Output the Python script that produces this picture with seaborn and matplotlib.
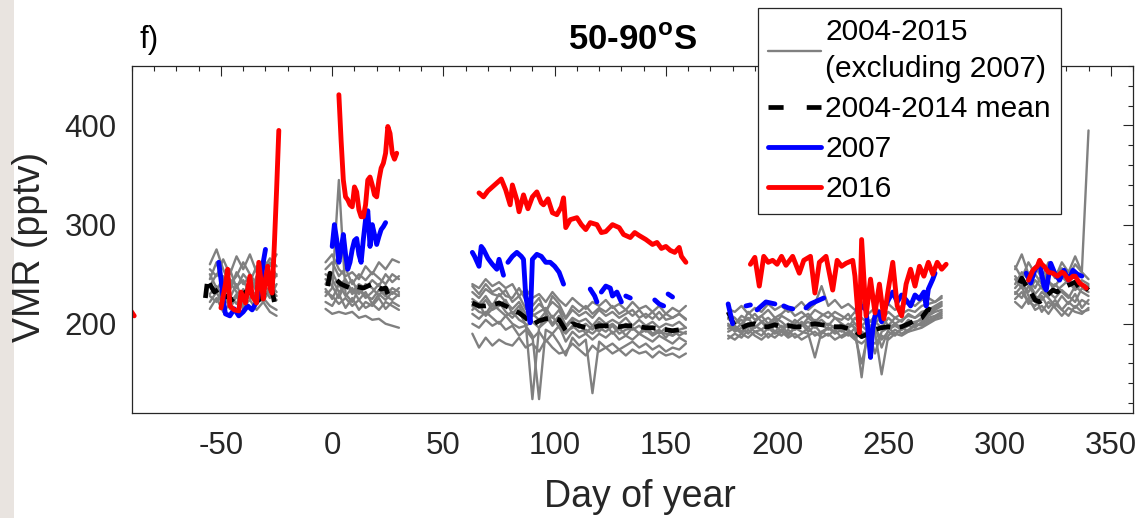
import numpy as np
import pandas as pd
import matplotlib
matplotlib.use("Agg")
import matplotlib.pyplot as plt
import seaborn as sns
from matplotlib.lines import Line2D
from matplotlib.patches import Rectangle
from matplotlib.ticker import MultipleLocator

nan = np.nan

# ---------------- data ----------------
gray_years = [2004, 2005, 2006, 2008, 2009, 2010, 2011, 2012, 2013, 2014]

days_a = [-55, -52, -49, -46, -43, -40, -37, -34, -31, -28, -25]
gray_a = [
    [245, 262, 240, 255, 236, 250, 242, 258, 246, 262, 248],
    [230, 238, 225, 242, 232, 228, 245, 236, 250, 240, 232],
    [255, 248, 265, 250, 268, 255, 270, 252, 264, 258, 270],
    [222, 232, 218, 228, 220, 235, 225, 230, 222, 236, 228],
    [238, 250, 246, 234, 252, 240, 248, 232, 244, 238, 250],
    [215, 226, 212, 220, 230, 218, 224, 214, 222, 212, 208],
    [240, 232, 248, 226, 240, 222, 236, 228, 242, 230, 224],
    [260, 275, 255, 240, 248, 262, 250, 240, 255, 266, 258],
    [228, 222, 235, 215, 228, 215, 232, 220, 226, 218, 214],
    [250, 236, 228, 245, 238, 244, 230, 248, 236, 226, 240],
]

days_b = [-3, 0, 3, 6, 9, 12, 15, 18, 21, 24, 27, 30]
gray_b = [
    [262, 270, 255, 248, 252, 245, 258, 250, 262, 255, 265, 262],
    [240, 252, 238, 245, 232, 240, 236, 244, 238, 250, 242, 248],
    [228, 236, 345, 230, 222, 235, 226, 232, 240, 228, 236, 232],
    [250, 245, 232, 238, 244, 230, 240, 236, 228, 238, 230, 236],
    [235, 225, 240, 228, 236, 224, 232, 220, 230, 224, 232, 228],
    [255, 262, 248, 256, 240, 250, 244, 252, 246, 240, 250, 245],
    [222, 218, 230, 216, 226, 214, 222, 218, 226, 215, 222, 218],
    [245, 238, 226, 242, 230, 236, 228, 225, 234, 228, 224, 230],
    [232, 228, 220, 226, 218, 224, 216, 220, 214, 222, 218, 214],
    [215, 210, 212, 210, 212, 206, 208, 204, 205, 200, 198, 196],
]

days_c = list(range(63, 160, 3))
gray_c = [
    [240, 236, 245, 238, 242, 236, 240, 228, 235, 226, 230, 222, 232, 224, 218, 226, 220, 215, 222, 218, 224, 216, 220, 214, 222, 215, 218, 212, 218, 210, 216, 212, 218],
    [232, 226, 235, 230, 228, 234, 222, 228, 215, 212, 220, 214, 222, 216, 205, 214, 208, 212, 206, 214, 208, 212, 206, 210, 214, 206, 210, 205, 212, 204, 206, 210, 205],
    [225, 220, 228, 218, 230, 222, 215, 222, 210, 208, 212, 216, 206, 214, 198, 206, 202, 205, 198, 206, 200, 204, 200, 206, 198, 204, 198, 202, 196, 200, 198, 202, 196],
    [218, 212, 210, 220, 214, 208, 212, 204, 200, 124, 196, 202, 208, 196, 190, 198, 192, 194, 190, 196, 192, 198, 190, 194, 196, 190, 194, 188, 192, 190, 188, 192, 190],
    [210, 205, 212, 206, 200, 208, 200, 196, 198, 188, 124, 194, 190, 198, 182, 192, 186, 190, 184, 190, 186, 192, 184, 188, 184, 190, 186, 182, 188, 184, 180, 186, 182],
    [200, 196, 204, 198, 202, 194, 198, 188, 194, 185, 192, 182, 190, 180, 168, 186, 178, 184, 130, 182, 176, 180, 174, 178, 182, 176, 180, 174, 178, 172, 176, 174, 180],
    [238, 230, 240, 232, 236, 228, 226, 236, 224, 218, 226, 210, 228, 220, 206, 218, 212, 218, 210, 216, 212, 218, 210, 214, 208, 214, 206, 212, 204, 210, 206, 210, 204],
    [214, 220, 208, 215, 222, 212, 206, 214, 198, 202, 196, 208, 198, 206, 192, 196, 200, 190, 198, 192, 200, 190, 196, 188, 196, 190, 198, 190, 194, 186, 194, 188, 192],
    [222, 216, 224, 214, 218, 224, 210, 218, 205, 210, 204, 212, 200, 208, 196, 204, 196, 200, 194, 202, 196, 200, 194, 200, 194, 198, 192, 196, 190, 196, 188, 194, 196],
    [190, 176, 186, 178, 184, 180, 178, 186, 176, 180, 172, 184, 176, 170, 172, 180, 174, 168, 178, 172, 176, 170, 174, 168, 174, 170, 172, 166, 172, 168, 170, 166, 170],
]

days_d = list(range(178, 276, 3))
gray_d = [
    [215, 212, 218, 210, 216, 212, 220, 214, 218, 212, 216, 222, 214, 220, 238, 218, 224, 216, 220, 214, 222, 210, 216, 212, 220, 214, 218, 222, 218, 224, 226, 222, 228],
    [205, 200, 208, 204, 210, 202, 206, 200, 208, 204, 200, 206, 210, 202, 208, 212, 206, 204, 210, 200, 198, 204, 200, 208, 198, 206, 202, 210, 206, 212, 214, 218, 222],
    [198, 194, 200, 206, 196, 202, 198, 204, 196, 200, 194, 202, 196, 204, 198, 200, 196, 194, 200, 196, 146, 200, 194, 198, 196, 200, 196, 204, 200, 206, 210, 214, 218],
    [192, 196, 190, 198, 192, 188, 196, 190, 194, 188, 196, 192, 190, 166, 192, 196, 190, 194, 188, 196, 186, 194, 170, 192, 196, 190, 194, 198, 196, 202, 206, 208, 212],
    [188, 184, 190, 186, 192, 194, 186, 192, 188, 194, 186, 190, 196, 188, 192, 188, 194, 186, 190, 184, 180, 186, 192, 149, 188, 194, 190, 194, 198, 200, 204, 206, 210],
    [210, 206, 198, 212, 204, 208, 214, 206, 210, 216, 208, 212, 206, 214, 210, 206, 212, 208, 204, 212, 206, 200, 208, 204, 212, 206, 210, 214, 212, 218, 220, 222, 226],
    [200, 192, 196, 190, 198, 194, 200, 192, 198, 190, 196, 200, 192, 198, 190, 196, 192, 200, 194, 188, 160, 190, 196, 184, 192, 188, 196, 192, 200, 198, 202, 206, 208],
    [185, 190, 186, 194, 188, 184, 190, 186, 192, 186, 190, 184, 188, 192, 186, 190, 184, 188, 192, 186, 190, 184, 180, 188, 184, 190, 188, 192, 194, 196, 200, 204, 206],
    [206, 200, 204, 196, 202, 208, 200, 206, 202, 196, 204, 198, 206, 200, 204, 198, 206, 200, 196, 206, 198, 192, 202, 196, 206, 200, 204, 208, 206, 210, 212, 216, 220],
    [195, 198, 192, 200, 196, 202, 194, 198, 192, 200, 194, 198, 202, 196, 200, 194, 198, 192, 196, 200, 192, 188, 198, 176, 194, 198, 194, 200, 202, 204, 208, 212, 214],
]

days_e = [307, 310, 313, 316, 319, 322, 325, 328, 331, 334, 337, 340]
gray_e = [
    [255, 270, 250, 258, 246, 262, 250, 256, 248, 260, 252, 245],
    [240, 252, 245, 236, 250, 242, 238, 248, 240, 236, 244, 240],
    [232, 226, 238, 228, 224, 232, 226, 234, 228, 222, 236, 232],
    [248, 240, 232, 244, 236, 228, 240, 232, 226, 238, 232, 228],
    [225, 232, 222, 218, 228, 216, 224, 214, 222, 216, 224, 220],
    [258, 246, 262, 250, 240, 256, 246, 262, 252, 268, 252, 395],
    [236, 244, 228, 222, 232, 226, 218, 228, 220, 230, 216, 224],
    [222, 216, 226, 214, 218, 210, 220, 214, 208, 218, 212, 214],
    [245, 236, 242, 230, 238, 244, 232, 238, 244, 234, 240, 238],
    [230, 238, 220, 226, 212, 222, 216, 208, 216, 212, 210, 216],
]

# 2004-2014 mean
mean_days_a = [-57, -56, -55, -53, -51, -49, -47, -45, -43, -41, -39, -37, -35, -33, -31, -29, -27, -26]
mean_vals_a = [226, 245, 240, 232, 235, 226, 228, 224, 230, 226, 232, 226, 228, 224, 230, 226, 233, 222]
mean_days_b = [-2, -1, 0, 2, 4, 6, 8, 10, 12, 14, 16, 18, 20, 22, 24, 25]
mean_vals_b = [238, 251, 246, 244, 240, 238, 236, 238, 237, 236, 238, 240, 238, 235, 236, 230]
mean_vals_c = [221, 218, 218, 219, 221, 218, 214, 211, 206, 199, 203, 205, 206, 204, 193, 200, 198,
               196, 196, 198, 198, 198, 197, 198, 198, 197, 196, 196, 195, 194, 193, 194, 195]
mean_vals_d = [212, 197, 196, 199, 200, 197, 197, 199, 197, 198, 197, 197, 199, 200, 199, 198, 197,
               197, 195, 193, 187, 190, 194, 196, 197, 196, 197, 200, 203, 206, 215, 212, nan]
mean_days_e = [309, 310, 312, 314, 316, 318, 320, 322, 324, 326, 328, 330, 332, 334, 336, 338, 340]
mean_vals_e = [241, 246, 238, 232, 224, 222, 226, 230, 234, 232, 236, 238, 240, 242, 236, 238, 234]

# 2007
blue_days = [-51, -50, -49, -48, -46, -44, -42, -40, -38, -36, -34, -32, -31, -30, nan,
             0, 1, 2, 3, 4, 5, 6, 7, 8, 9, 10, 11, 12, 13, 14, 15, 16, 17, 18, 19, 20, 21, 22, 23, 24, nan,
             63, 64, 66, 67, 68, 70, 72, 74, 75, 77, nan, 79, 81, 83, 85, 86, 87, 88, 89, 90, 92, 94, 96, 98,
             100, 102, 104, nan, 116, 118, 119, nan, 121, 123, 125, 126, 128, 130, nan, 132, 134, nan,
             145, 147, 149, nan, 151, 153, nan,
             178, 179, 180, nan, 186, 188, nan, 191, 193, 195, 197, 199, nan, 203, 205, 207, nan,
             213, 215, 217, 219, 221, nan, 236, 238, 240, 241, 242, 243, 244, 246, 247, 248, 250, 252,
             254, 256, 258, 260, 262, 264, 266, 267, 268, 270, 271, nan,
             312, 314, 316, 318, 320, 321, 323, 325, 327, 329, 331, 333, 335, 337]
blue_vals = [262, 245, 225, 210, 208, 215, 208, 212, 218, 214, 222, 240, 262, 275, nan,
             278, 300, 285, 262, 275, 290, 270, 255, 262, 275, 284, 286, 270, 262, 285, 305, 314, 278, 300,
             290, 280, 288, 295, 298, 302, nan,
             272, 268, 258, 278, 275, 266, 260, 255, 265, 249, nan, 262, 268, 272, 268, 265, 228, 215, 201,
             265, 270, 268, 262, 262, 258, 252, 240, nan, 235, 228, 222, nan, 232, 238, 236, 228, 232, 222,
             nan, 228, 226, nan, 224, 220, 218, nan, 230, 227, nan,
             220, 210, 200, nan, 218, 219, nan, 214, 218, 222, 221, 220, nan, 218, 216, 215, nan,
             216, 220, 222, 224, 226, nan, 214, 218, 214, 190, 166, 195, 208, 212, 202, 214, 224, 232,
             222, 229, 224, 218, 229, 225, 232, 218, 235, 245, 251, nan,
             251, 241, 255, 261, 238, 234, 261, 250, 244, 254, 244, 254, 250, 248]

# 2016
red_days = [-92, -89, nan,
            -50, -48, -47, -46, -44, -42, -41, -39, -37, -36, -34, -33, -31, -30, -29, -28, -27, -26, -25, -24, nan,
            3, 4, 5, 6, 7, 8, 9, 10, 11, 12, 13, 14, 15, 16, 17, 18, 19, 20, 21, 22, 23, 24, 25, 26, 27, 28, 29, nan,
            66, 68, 70, 72, 74, 76, 78, 80, 81, 83, 84, 86, 88, 90, 92, 94, 95, 97, 99, 101, 103, 104, 105,
            107, 110, 112, 114, 116, 119, 121, 123, 126, 129, 131, 134, 136, 138, 141, 144, 146, 148, 150,
            152, 154, 156, 157, 159, nan,
            188, 190, 192, 194, 196, 198, 200, 202, 204, 207, 210, 212, 215, 217, 219, 222, 225, 227, 229,
            231, 234, 235, 237, 238, 240, 242, 244, 246, 248, 250, 252, 254, 256, 258, 260, 262, 264, 266,
            268, 270, 272, 274, 276, nan,
            313, 315, 317, 318, 319, 320, 322, 324, 326, 328, 329, 331, 333, 334, 336, 338, 339]
red_vals = [218, 208, nan,
            216, 240, 255, 218, 214, 213, 232, 221, 248, 228, 221, 262, 225, 245, 258, 236, 231, 280, 335, 395, nan,
            431, 385, 345, 328, 325, 320, 318, 338, 333, 315, 308, 308, 320, 345, 348, 340, 330, 328, 345,
            357, 362, 372, 399, 392, 372, 366, 372, nan,
            332, 328, 334, 338, 342, 346, 335, 320, 340, 325, 313, 330, 316, 328, 333, 322, 320, 326, 312,
            310, 318, 327, 297, 305, 307, 300, 295, 302, 300, 292, 293, 300, 297, 290, 287, 292, 289, 285,
            280, 282, 276, 278, 274, 272, 277, 268, 262, nan,
            260, 267, 238, 268, 262, 264, 260, 268, 259, 268, 251, 264, 268, 231, 262, 268, 234, 264, 258,
            261, 264, 248, 191, 285, 208, 245, 211, 240, 205, 235, 262, 218, 208, 240, 255, 238, 258, 248,
            262, 250, 262, 255, 260, nan,
            244, 254, 258, 264, 260, 258, 252, 251, 248, 252, 251, 244, 248, 248, 241, 238, 236]

x_ticks = [-50, 0, 50, 100, 150, 200, 250, 300, 350]
y_ticks = [200, 300, 400]
legend_labels = ["2004-2015\n(excluding 2007)", "2004-2014 mean", "2007", "2016"]


# ---------------- build long tables ----------------
def chunks(days, vals, name, rows):
    cid = 0
    for d, v in zip(days, vals):
        if np.isnan(d) or np.isnan(v):
            cid += 1
            continue
        rows.append({"day": d, "vmr": v, "chunk": f"{name}_{cid}"})


gray_rows = []
for seg_name, dd, block in [("a", days_a, gray_a), ("b", days_b, gray_b), ("c", days_c, gray_c),
                            ("d", days_d, gray_d), ("e", days_e, gray_e)]:
    for yr, vals in zip(gray_years, block):
        chunks(dd, vals, f"{yr}{seg_name}", gray_rows)
gray_df = pd.DataFrame(gray_rows)

mean_rows = []
for seg_name, dd, vv in [("a", mean_days_a, mean_vals_a), ("b", mean_days_b, mean_vals_b),
                         ("c", days_c, mean_vals_c), ("d", days_d, mean_vals_d),
                         ("e", mean_days_e, mean_vals_e)]:
    chunks(dd, vv, "mean" + seg_name, mean_rows)
mean_df = pd.DataFrame(mean_rows)

blue_rows = []
chunks(blue_days, blue_vals, "b2007", blue_rows)
blue_df = pd.DataFrame(blue_rows)

red_rows = []
chunks(red_days, red_vals, "r2016", red_rows)
red_df = pd.DataFrame(red_rows)

# ---------------- plot ----------------
sns.set_theme(style="white")
plt.rcParams["font.family"] = ["Liberation Sans", "DejaVu Sans"]
plt.rcParams["mathtext.fontset"] = "custom"
plt.rcParams["mathtext.rm"] = "Liberation Sans"
plt.rcParams["mathtext.bf"] = "Liberation Sans:bold"
plt.rcParams["axes.unicode_minus"] = False

W, H = 1138, 518
fig = plt.figure(figsize=(W / 100, H / 100), dpi=100)
fig.patch.set_facecolor("white")
fig.patches.append(Rectangle((0, 0), 14 / W, 1, transform=fig.transFigure,
                             facecolor="#e9e4e0", edgecolor="none", zorder=-1))

L, R, T, B = 132, 1133, 66, 413
ax = fig.add_axes([L / W, 1 - B / H, (R - L) / W, (B - T) / H])

common = dict(x="day", y="vmr", units="chunk", estimator=None, sort=False, legend=False, ax=ax)
sns.lineplot(data=gray_df, color="#808080", linewidth=1.7, **common)
sns.lineplot(data=mean_df, color="black", linewidth=3.4, linestyle=(0, (3.0, 2.0)), **common)
sns.lineplot(data=blue_df, color="#0000ff", linewidth=3.5, **common)
sns.lineplot(data=red_df, color="#ff0000", linewidth=3.5, **common)

ax.set_xlim(-90, 360)
ax.set_ylim(110, 460)
ax.set_xticks(x_ticks)
ax.set_yticks(y_ticks)
ax.xaxis.set_minor_locator(MultipleLocator(10))
ax.yaxis.set_minor_locator(MultipleLocator(20))

tc = "#262626"
for s in ax.spines.values():
    s.set_visible(True)
    s.set_color(tc)
    s.set_linewidth(0.9)
ax.tick_params(which="both", direction="in", top=True, right=True, color=tc,
               labelcolor=tc, labelsize=22.5, width=0.8)
ax.tick_params(which="major", length=7)
ax.tick_params(which="minor", length=3.5)
ax.tick_params(axis="x", pad=13)
ax.tick_params(axis="y", pad=11)

ax.set_xlabel("Day of year", fontsize=27, color=tc, va="center")
ax.xaxis.set_label_coords(0.5 + 7 / (R - L), -(497 - B) / (B - T))
ax.set_ylabel("VMR (pptv)", fontsize=27, color=tc, va="center")
ax.yaxis.set_label_coords((30 - L) / (R - L), 0.5 - 7 / (B - T))

ax.text(0.5, 1 + (T - 41) / (B - T), r"50-90$^{\mathbf{o}}$S", transform=ax.transAxes,
        ha="center", va="center", fontsize=25, fontweight="bold", color="black")
ax.text((139 - L) / (R - L), 1 + (T - 40) / (B - T), "f)", transform=ax.transAxes,
        ha="left", va="center", fontsize=22.5, color="black")

handles = [
    Line2D([], [], color="#808080", lw=1.7),
    Line2D([], [], color="black", lw=3.4, linestyle=(0, (3.2, 4.9))),
    Line2D([], [], color="#0000ff", lw=3.5),
    Line2D([], [], color="#ff0000", lw=3.5),
]
leg = fig.legend(handles, legend_labels, loc="upper left",
                 bbox_to_anchor=(758 / W, 1 - 8 / H), bbox_transform=fig.transFigure,
                 fontsize=21.5, frameon=True, fancybox=False, framealpha=1,
                 edgecolor=tc, borderpad=0.35, borderaxespad=0, handlelength=1.75,
                 handletextpad=0.15, labelspacing=0.4)
leg.get_frame().set_linewidth(0.9)
for t in leg.get_texts():
    t.set_linespacing(1.4)
    t.set_color("black")

fig.savefig("out.png", dpi=100)
